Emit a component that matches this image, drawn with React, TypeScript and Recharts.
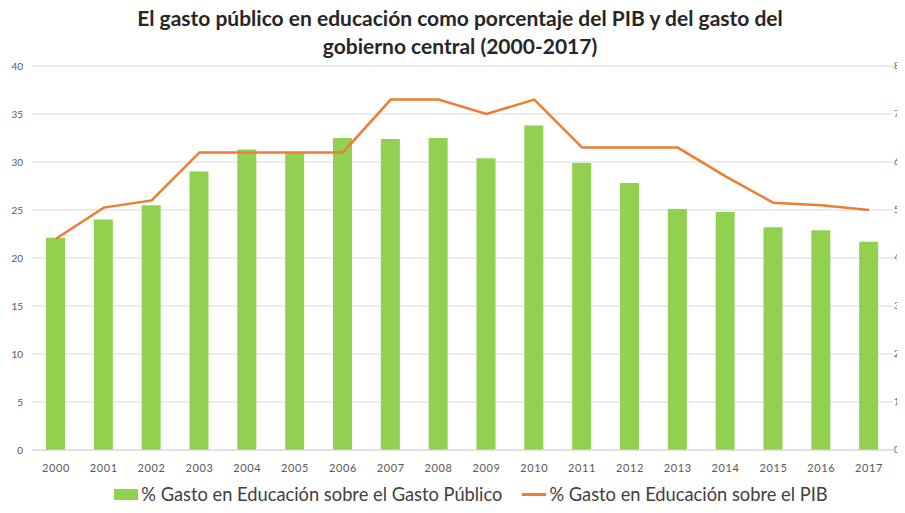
import React from 'react';
import { ComposedChart, Bar, Line, XAxis, YAxis, CartesianGrid, Legend } from 'recharts';

const years = ['2000','2001','2002','2003','2004','2005','2006','2007','2008','2009','2010','2011','2012','2013','2014','2015','2016','2017'];
const gastoPublico = [22.1, 24.0, 25.5, 29.0, 31.3, 31.0, 32.5, 32.4, 32.5, 30.4, 33.8, 29.9, 27.8, 25.1, 24.8, 23.2, 22.9, 21.7];
const gastoPIB = [4.4, 5.05, 5.2, 6.2, 6.2, 6.2, 6.2, 7.3, 7.3, 7.0, 7.3, 6.3, 6.3, 6.3, 5.7, 5.15, 5.1, 5.0];
const leftTicks = [0, 5, 10, 15, 20, 25, 30, 35, 40];
const rightTicks = [0, 1, 2, 3, 4, 5, 6, 7, 8];
const barName = '% Gasto en Educación sobre el Gasto Público';
const lineName = '% Gasto en Educación sobre el PIB';

const data = years.map((y, i) => ({ year: y, publico: gastoPublico[i], pib: gastoPIB[i] }));

const FONT = 'Lato, "Open Sans", sans-serif';
const GREEN = '#92D050';
const ORANGE = '#ED7D31';

const RightTick = (props: any) => {
  const { y, payload } = props;
  return (
    <text x={894} y={y} dy="0.355em" textAnchor="start" fill="#595959" fontSize={9} fontFamily={FONT}>
      {payload.value}
    </text>
  );
};

const LegendContent = () => (
  <div style={{ display: 'flex', justifyContent: 'center', alignItems: 'center', height: 28, paddingLeft: 22, fontFamily: FONT, fontSize: 18.3, color: '#404040' }}>
    <div style={{ display: 'flex', alignItems: 'center', marginRight: 20 }}>
      <span style={{ display: 'inline-block', width: 24, height: 11, background: GREEN, marginRight: 3 }} />
      <span>{barName}</span>
    </div>
    <div style={{ display: 'flex', alignItems: 'center' }}>
      <span style={{ display: 'inline-block', width: 24, height: 3, background: ORANGE, marginRight: 3 }} />
      <span>{lineName}</span>
    </div>
  </div>
);

export default function App() {
  return (
    <div style={{ margin: -8, width: 905, height: 513, overflow: 'hidden', position: 'relative', background: '#fff' }}>
      <div style={{ position: 'absolute', top: 4, left: 0, width: 920, textAlign: 'center', fontFamily: FONT, fontWeight: 700, fontSize: 21, lineHeight: '28px', color: '#262626', zIndex: 2 }}>
        El gasto público en educación como porcentaje del PIB y del gasto del<br />gobierno central (2000-2017)
      </div>
      <ComposedChart width={920} height={513} data={data} margin={{ top: 66, right: 0, bottom: 5, left: 0 }} barSize={19}>
        <CartesianGrid yAxisId="left" vertical={false} stroke="#d9d9d9" />
        <XAxis dataKey="year" axisLine={{ stroke: '#d9d9d9' }} tickLine={false} tickSize={6} tickMargin={8} height={30}
          tick={{ fill: '#595959', fontSize: 11, fontFamily: FONT, letterSpacing: 0.6 }} interval={0} />
        <YAxis yAxisId="left" domain={[0, 40]} ticks={leftTicks} width={32} axisLine={false} tickLine={false} tickSize={6} tickMargin={3}
          tick={{ fill: '#595959', fontSize: 10, fontFamily: FONT }} />
        <YAxis yAxisId="right" orientation="right" domain={[0, 8]} ticks={rightTicks} width={27} axisLine={false} tickLine={false} tickSize={0} tickMargin={4}
          tick={<RightTick />} interval={0} />
        <Bar yAxisId="left" dataKey="publico" name={barName} fill={GREEN} isAnimationActive={false} />
        <Line yAxisId="right" dataKey="pib" name={lineName} stroke={ORANGE} strokeWidth={2.5} dot={false} type="linear" isAnimationActive={false} />
        <Legend verticalAlign="bottom" height={28} content={<LegendContent />} />
      </ComposedChart>
    </div>
  );
}
